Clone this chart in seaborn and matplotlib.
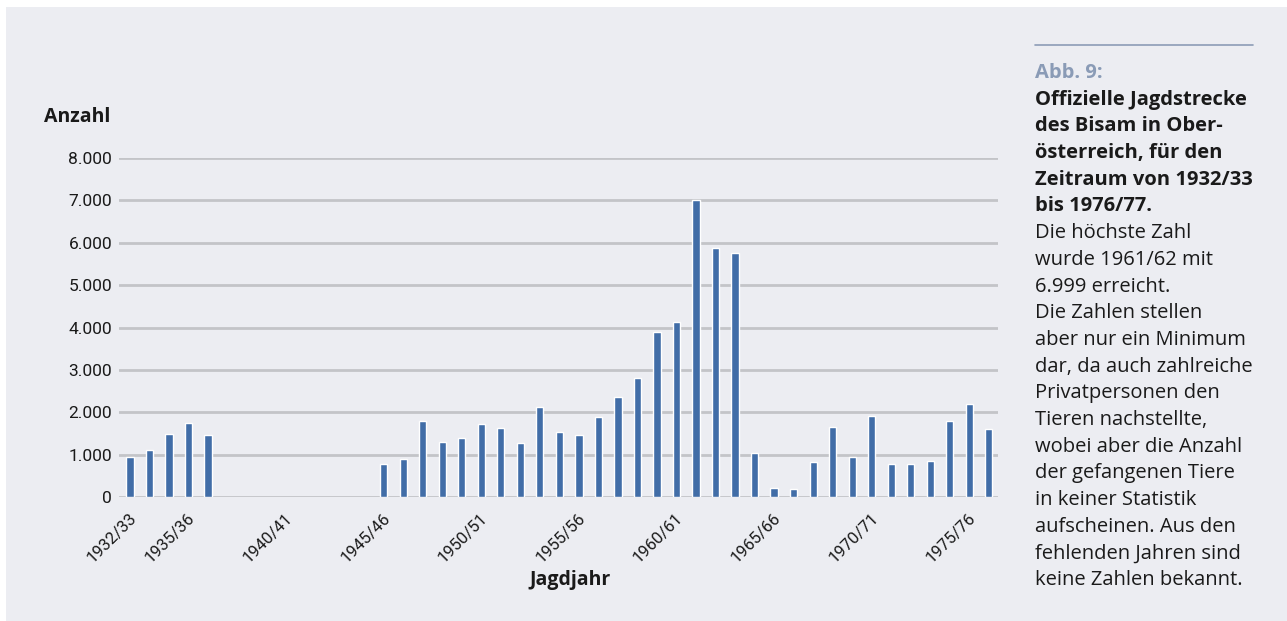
import numpy as np
import pandas as pd
import matplotlib
matplotlib.use("Agg")
import matplotlib.pyplot as plt
from matplotlib.patches import Rectangle
from matplotlib.transforms import ScaledTranslation
import seaborn as sns

# Hunting seasons 1932/33 .. 1976/77
seasons = [f"{y}/{str(y + 1)[-2:]}" for y in range(1932, 1977)]

# Official muskrat bag per season (NaN = no figures known)
values = [
    950, 1120, 1480, 1735, 1455,                       # 1932/33 - 1936/37
    np.nan, np.nan, np.nan, np.nan,                    # 1937/38 - 1940/41
    np.nan, np.nan, np.nan, np.nan,                    # 1941/42 - 1944/45
    775, 885, 1790, 1300, 1400, 1720, 1640, 1265,      # 1945/46 - 1952/53
    2135, 1545, 1455, 1885, 2360, 2820, 3900, 4140,    # 1953/54 - 1960/61
    6999, 5885, 5765, 1045, 213, 200, 820, 1655,       # 1961/62 - 1968/69
    955, 1920, 770, 770, 845, 1805, 2200, 1595,        # 1969/70 - 1976/77
]

labelled_seasons = ["1932/33", "1935/36", "1940/41", "1945/46", "1950/51",
                    "1955/56", "1960/61", "1965/66", "1970/71", "1975/76"]
y_ticks = [0, 1000, 2000, 3000, 4000, 5000, 6000, 7000, 8000]
y_tick_labels = ["0", "1.000", "2.000", "3.000", "4.000", "5.000",
                 "6.000", "7.000", "8.000"]

caption_head = "Abb. 9:"
caption_bold = ["Offizielle Jagdstrecke", "des Bisam in Ober-",
                "österreich, für den", "Zeitraum von 1932/33", "bis 1976/77."]
caption_text = ["Die höchste Zahl", "wurde 1961/62 mit", "6.999 erreicht.",
                "Die Zahlen stellen", "aber nur ein Minimum",
                "dar, da auch zahlreiche", "Privatpersonen den",
                "Tieren nachstellte,", "wobei aber die Anzahl",
                "der gefangenen Tiere", "in keiner Statistik",
                "aufscheinen. Aus den", "fehlenden Jahren sind",
                "keine Zahlen bekannt."]

df = pd.DataFrame({"Jagdjahr": seasons, "Anzahl": values})

W, H = 1287, 621
BG = "#ECEDF2"
BAR = "#416DA7"
GRID = "#C3C4C8"
TXT = "#1A1A1A"
TEXT_FONT = ["Open Sans", "DejaVu Sans"]
TICK_FONT = ["Roboto", "DejaVu Sans"]

sns.set_theme(style="white")
plt.rcParams["font.family"] = TEXT_FONT

fig = plt.figure(figsize=(W / 100, H / 100), dpi=100)
fig.patch.set_facecolor("white")
fig.patches.append(Rectangle((6 / W, 0), 1 - 6 / W, 1 - 7 / H,
                             transform=fig.transFigure, facecolor=BG,
                             edgecolor="none", zorder=-10))


def px(x, y):
    return x / W, 1 - y / H


left, right, top, bottom = 119, 998, 158, 497
ax = fig.add_axes([left / W, 1 - bottom / H, (right - left) / W, (bottom - top) / H])
ax.set_facecolor(BG)

sns.barplot(data=df, x="Jagdjahr", y="Anzahl", order=seasons, color=BAR,
            width=0.37, saturation=1, errorbar=None, ax=ax, zorder=3)

ax.set_xlim(-0.56, len(seasons) - 0.53)
ax.set_ylim(0, 8000)
ax.set_yticks(y_ticks)
ax.set_yticklabels(y_tick_labels, fontfamily=TICK_FONT, fontsize=12.5, color=TXT)
ax.tick_params(axis="y", length=0, pad=5)

tick_pos = [seasons.index(s) for s in labelled_seasons]
ax.set_xticks(tick_pos)
ax.set_xticklabels(labelled_seasons, rotation=45, ha="right", va="center",
                   rotation_mode="anchor", fontfamily=TICK_FONT,
                   fontsize=12, color=TXT)
ax.tick_params(axis="x", length=0, pad=13.5)
shift = ScaledTranslation(4 / 100, 0, fig.dpi_scale_trans)
for lab in ax.get_xticklabels():
    lab.set_transform(lab.get_transform() + shift)

ax.yaxis.grid(True, color=GRID, linewidth=2)
ax.set_axisbelow(True)
for s in ax.spines.values():
    s.set_visible(False)
ax.set_xlabel("")
ax.set_ylabel("")

fig.text(*px(44, 117), "Anzahl", fontsize=14, fontweight="bold", color=TXT,
         ha="left", va="center")
fig.text(*px(570, 580), "Jagdjahr", fontsize=14, fontweight="bold", color=TXT,
         ha="center", va="center")

# caption block on the right
fig.add_artist(plt.Line2D([1035 / W, 1253 / W], [1 - 45 / H, 1 - 45 / H],
                          transform=fig.transFigure, color="#8C9CB6", linewidth=1.2))
line_h = 26.7
cap_size = 14.5
fig.text(*px(1035, 73), caption_head, fontsize=cap_size, fontweight="bold",
         color="#8A9BB6", ha="left", va="center")
y = 73 + line_h
for line in caption_bold:
    fig.text(*px(1035, y), line, fontsize=cap_size, fontweight="bold", color=TXT,
             ha="left", va="center")
    y += line_h
for line in caption_text:
    fig.text(*px(1035, y), line, fontsize=cap_size, color=TXT, ha="left", va="center")
    y += line_h

fig.savefig("out.png", dpi=100, facecolor=fig.get_facecolor())
